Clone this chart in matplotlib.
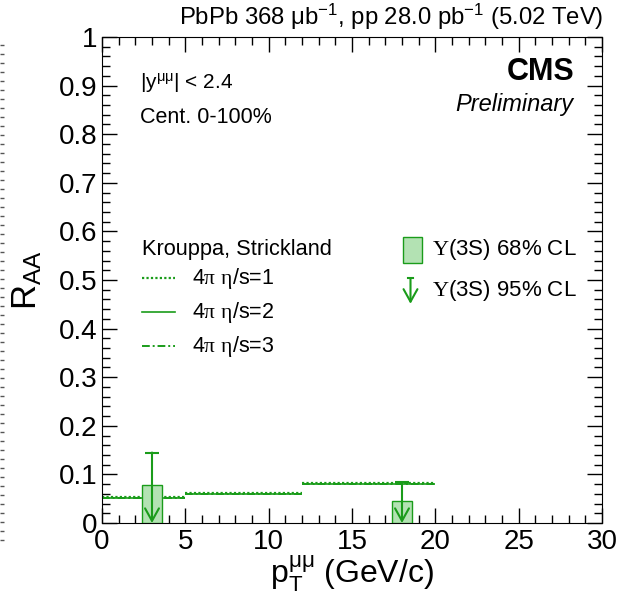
import numpy as np
import matplotlib
matplotlib.use('Agg')
import matplotlib.pyplot as plt
from matplotlib.ticker import MultipleLocator, FormatStrFormatter
from matplotlib.lines import Line2D

plt.rcParams['font.family'] = ['Liberation Sans', 'DejaVu Sans']
plt.rcParams['mathtext.fontset'] = 'custom'
plt.rcParams['mathtext.rm'] = 'Liberation Sans'
plt.rcParams['mathtext.it'] = 'Liberation Sans:italic'
plt.rcParams['mathtext.sf'] = 'Liberation Serif'

# theory bins (Krouppa, Strickland)
bin_edges = [0, 5, 12, 20]
eta_s_1 = [0.053, 0.061, 0.082]
eta_s_2 = [0.052, 0.060, 0.081]
eta_s_3 = [0.051, 0.059, 0.080]

# Upsilon(3S) upper limits
pt_points = [3, 18]
cl68 = [0.078, 0.045]
cl95 = [0.145, 0.084]

green = '#1a9c1a'
fill = '#b3e2b3'

fig = plt.figure(figsize=(6.19, 5.95), dpi=100)
ax = fig.add_axes([102/619, 72/595, 500/619, 486/595])

lo = np.array(bin_edges[:-1])
hi = np.array(bin_edges[1:])
ax.hlines(eta_s_1, lo, hi, colors=green, linestyles=(0, (1, 1)), lw=1.6)
ax.hlines(eta_s_2, lo, hi, colors=green, linestyles='-', lw=1.2)
ax.hlines(eta_s_3, lo, hi, colors=green, linestyles=(0, (4, 1.5, 1, 1.5)), lw=1.4)

# 68% CL boxes
ax.bar(pt_points, cl68, width=1.2, bottom=0, color=fill, edgecolor=green, lw=1.0, zorder=3)
# 95% CL arrows
for x, lim in zip(pt_points, cl95):
    ax.hlines(lim, x - 0.4, x + 0.4, colors=green, lw=1.5, zorder=4)
    ax.annotate('', xy=(x, 0.0), xytext=(x, lim),
                arrowprops=dict(arrowstyle='->,head_length=0.9,head_width=0.5',
                                color=green, lw=1.5, shrinkA=0, shrinkB=0),
                zorder=4)

ax.set_xlim(0, 30)
ax.set_ylim(0, 1)
ax.xaxis.set_major_locator(MultipleLocator(5))
ax.xaxis.set_minor_locator(MultipleLocator(1))
ax.yaxis.set_major_locator(MultipleLocator(0.1))
ax.yaxis.set_minor_locator(MultipleLocator(0.02))
ax.yaxis.set_major_formatter(FormatStrFormatter('%g'))
ax.tick_params(which='both', direction='in', top=True, right=True, labelsize=20, width=1)
ax.tick_params(which='major', length=10.5)
ax.tick_params(which='minor', length=5.5)
ax.tick_params(axis='x', pad=4)
ax.tick_params(axis='y', pad=3)

ax.set_xlabel(r'p$_\mathrm{T}^\mathrm{μμ}$ (GeV/c)', fontsize=23, va='top')
ax.xaxis.set_label_coords(0.5, -0.062)
ax.set_ylabel(r'R$_\mathrm{AA}$', fontsize=25)
ax.yaxis.set_label_coords(-0.115, 0.5)

fig.text(603/619, 1 - 17/595, r'PbPb 368 $\mathrm{μ}$b$^{-1}$, pp 28.0 pb$^{-1}$ (5.02 TeV)',
         ha='right', va='center', fontsize=17.2)

ax.text(0.076, 0.905, r'|y$^\mathrm{μμ}$| < 2.4', transform=ax.transAxes, fontsize=15, va='center')
ax.text(0.076, 0.835, 'Cent. 0-100%', transform=ax.transAxes, fontsize=15.5, va='center')
ax.text(0.944, 0.928, 'CMS', transform=ax.transAxes, fontsize=22, fontweight='bold',
        ha='right', va='center')
ax.text(0.942, 0.862, 'Preliminary', transform=ax.transAxes, fontsize=17, style='italic',
        ha='right', va='center')

# left legend (theory)
ax.text(0.079, 0.562, 'Krouppa, Strickland', transform=ax.transAxes, fontsize=15.7, va='center')
leg_styles = [((0, (1, 1)), 1.6), ('-', 1.2), ((0, (4, 1.5, 1, 1.5)), 1.4)]
leg_labels = [r'4$\mathsf{π}$ $\mathsf{η}$/s=1', r'4$\mathsf{π}$ $\mathsf{η}$/s=2',
              r'4$\mathsf{π}$ $\mathsf{η}$/s=3']
for i, ((ls, lw), lab) in enumerate(zip(leg_styles, leg_labels)):
    yy = 0.504 - 0.07 * i
    ax.add_line(Line2D([0.079, 0.146], [yy, yy], transform=ax.transAxes,
                       color=green, ls=ls, lw=lw))
    ax.text(0.179, yy, lab, transform=ax.transAxes, fontsize=15.5, va='center')

# right legend (data)
ax.add_patch(plt.Rectangle((0.602, 0.535), 0.038, 0.053, transform=ax.transAxes,
                           facecolor=fill, edgecolor=green, lw=1.0))
ax.text(0.66, 0.562, r'$\mathsf{Υ}$(3S) 68% CL', transform=ax.transAxes, fontsize=16, va='center')
ax.add_line(Line2D([0.612, 0.622], [0.504, 0.504], transform=ax.transAxes, color=green, lw=1.5))
ax.annotate('', xy=(0.617, 0.451), xytext=(0.617, 0.504), xycoords='axes fraction',
            arrowprops=dict(arrowstyle='->,head_length=0.9,head_width=0.5',
                            color=green, lw=1.5, shrinkA=0, shrinkB=0))
ax.text(0.66, 0.479, r'$\mathsf{Υ}$(3S) 95% CL', transform=ax.transAxes, fontsize=16, va='center')

# edge of neighbouring panel visible at left border
edge_y = np.arange(45, 545, 9)
fig.add_artist(Line2D(np.full(edge_y.size, 1.5 / 619), 1 - edge_y / 595, transform=fig.transFigure,
                      ls='none', marker='_', ms=3, mew=1, color='#555555'))

fig.savefig('out.png', dpi=100)
